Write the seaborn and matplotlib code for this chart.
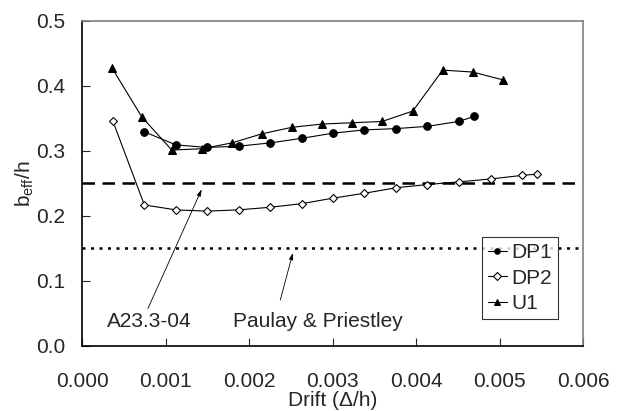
import pandas as pd
import numpy as np
import seaborn as sns
import matplotlib.pyplot as plt

# Data
dp1_drift = [0.000747, 0.001123, 0.001499, 0.001879, 0.002254, 0.002630, 0.003006,
             0.003381, 0.003761, 0.004137, 0.004512, 0.004700]
dp1_beff = [0.329, 0.309, 0.305, 0.307, 0.312, 0.319, 0.327,
            0.332, 0.334, 0.3375, 0.345, 0.353]

dp2_drift = [0.000368, 0.000747, 0.001123, 0.001499, 0.001879, 0.002254, 0.002630,
             0.003006, 0.003381, 0.003761, 0.004137, 0.004512, 0.004892, 0.005268, 0.005450]
dp2_beff = [0.346, 0.2165, 0.209, 0.207, 0.209, 0.213, 0.2185,
            0.227, 0.2345, 0.243, 0.248, 0.252, 0.2565, 0.262, 0.264]

u1_drift = [0.000356, 0.000716, 0.001075, 0.001435, 0.001795, 0.002155, 0.002514,
            0.002874, 0.003234, 0.003594, 0.003961, 0.004320, 0.004680, 0.005040]
u1_beff = [0.428, 0.352, 0.301, 0.303, 0.312, 0.326, 0.336,
           0.341, 0.343, 0.345, 0.361, 0.424, 0.421, 0.409]

code_lines = [0.25, 0.15]
code_labels = ["A23.3-04", "Paulay & Priestley"]

x_ticks = [0.000, 0.001, 0.002, 0.003, 0.004, 0.005, 0.006]
y_ticks = [0.0, 0.1, 0.2, 0.3, 0.4, 0.5]

sns.set_style("ticks")
plt.rcParams['font.family'] = ['Liberation Sans', 'DejaVu Sans']
plt.rcParams['mathtext.fontset'] = 'custom'
plt.rcParams['mathtext.rm'] = 'Liberation Sans'
plt.rcParams['mathtext.it'] = 'Liberation Sans:italic'

fig = plt.figure(figsize=(6.18, 4.11), dpi=100)
ax = fig.add_axes([0.1327, 0.1589, 0.8107, 0.7907])

# Measured series
sns.lineplot(x=dp1_drift, y=dp1_beff, ax=ax, color='black', linewidth=0.8,
             marker='o', markersize=5.5, markeredgecolor='black', label='DP1')
sns.lineplot(x=dp2_drift, y=dp2_beff, ax=ax, color='black', linewidth=0.8,
             marker='D', markersize=4, markerfacecolor='white',
             markeredgecolor='black', markeredgewidth=0.8, label='DP2')
sns.lineplot(x=u1_drift, y=u1_beff, ax=ax, color='black', linewidth=0.8,
             marker='^', markersize=6, markeredgecolor='black', label='U1')

# Code limits
ax.axhline(code_lines[0], color='black', linewidth=1.8, linestyle=(0, (5, 3)), zorder=1)
ax.axhline(code_lines[1], color='black', linewidth=1.8, linestyle=(0, (1.2, 2.2)), zorder=1)

# Annotations
ax.text(0.000803, 0.0365, code_labels[0], ha='center', va='center', fontsize=15)
ax.annotate('', xy=(0.001447, 0.2445), xytext=(0.000776, 0.0534),
            arrowprops=dict(arrowstyle='-|>,head_length=0.4,head_width=0.12',
                            color='black', linewidth=0.6))
ax.text(0.00283, 0.0365, code_labels[1], ha='center', va='center', fontsize=15)
ax.annotate('', xy=(0.002534, 0.147), xytext=(0.002366, 0.066),
            arrowprops=dict(arrowstyle='-|>,head_length=0.4,head_width=0.12',
                            color='black', linewidth=0.6))

ax.set_xlim(0, 0.006)
ax.set_ylim(0, 0.5)
ax.set_xticks(x_ticks)
ax.set_xticklabels([f"{v:.3f}" for v in x_ticks])
ax.set_yticks(y_ticks)
ax.set_yticklabels([f"{v:.1f}" for v in y_ticks])
ax.tick_params(axis='x', direction='in', length=6, width=0.8, pad=19, labelsize=15)
ax.tick_params(axis='y', direction='in', length=6, width=0.8, pad=12, labelsize=15)

ax.set_xlabel("Drift (\u0394/h)", fontsize=15, labelpad=0)
ax.set_ylabel(r"b$_{\mathrm{eff}}$/h", fontsize=15, labelpad=0)

for side in ['left', 'bottom']:
    ax.spines[side].set_color('black')
    ax.spines[side].set_linewidth(1.2)
for side in ['top', 'right']:
    ax.spines[side].set_color('gray')
    ax.spines[side].set_linewidth(1.2)

leg = ax.legend(loc='lower right', bbox_to_anchor=(0.95, 0.082), borderaxespad=0,
                fontsize=15, frameon=True, fancybox=False, handlelength=0.9,
                handletextpad=0.2, labelspacing=0.3, borderpad=0.3)
leg.get_frame().set_edgecolor('black')
leg.get_frame().set_linewidth(0.8)
for line in leg.get_lines():
    line.set_markersize(4)

plt.savefig("out.png", dpi=100)
